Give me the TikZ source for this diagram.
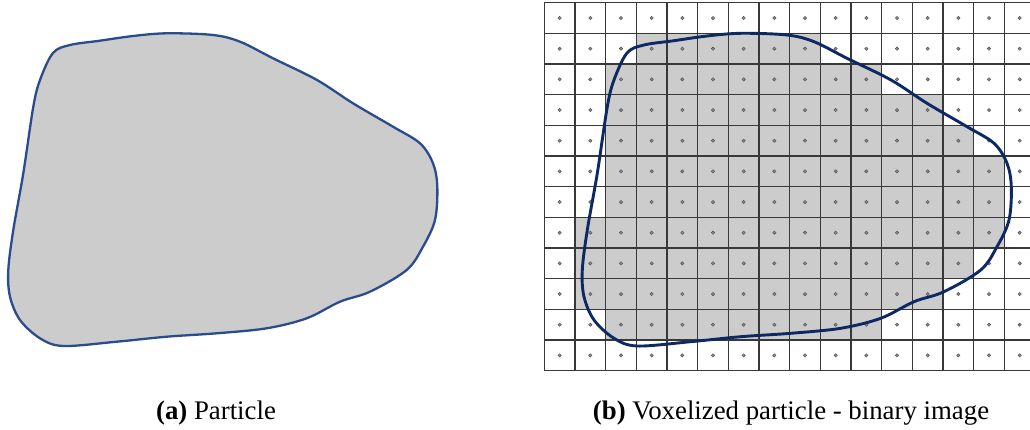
\documentclass[tikz,border=0pt]{standalone}
\usepackage{fontspec}
\setmainfont{Liberation Serif}

\begin{document}
\begin{tikzpicture}[
  x=1pt,y=-1pt,
  voxel/.style={fill=black!20},
  gridline/.style={draw=black!78,line width=1.2pt},
  voxdot/.style={draw=black!70,fill=black!45,line width=0.4pt},
  shapeA/.style={draw=particleA,fill=black!20,line width=2.3pt},
  shapeB/.style={draw=particleB,line width=2.9pt},
  caption/.style={font=\fontsize{26.8}{30}\selectfont,anchor=base}]

  \definecolor{particleA}{RGB}{42,76,140}
  \definecolor{particleB}{RGB}{14,40,100}

  \def\cs{30.67}
  \def\gx{544.3}
  \def\gy{2.7}
  \def\particle{plot[smooth cycle,tension=0.55] coordinates {
    (53,53) (70,45) (100,40.7) (133,36) (167,33.3) (213,35) (240,41.7)
    (273,58.3) (317,80) (353,103.3) (393,126.7) (420,143.3) (433,163.3)
    (437.3,186.7) (435,220) (423,246.7) (406.7,270) (370,291.7) (340,301.7)
    (306.7,318.3) (266.7,328.3) (216.7,333.3) (166.7,336.7) (116.7,341.7)
    (63.3,346) (40,338.3) (20,320) (10,296.7) (8.3,270) (13.3,230)
    (23.3,173.3) (33.3,106.7) (40,80)}}

  \useasboundingbox (0,0) rectangle (1030,430);

  % ---- (a) particle ----
  \path[shapeA] \particle;

  % ---- (b) voxel grid ----
  \begin{scope}
    \clip (0,0) rectangle (1030,430);
    % occupied voxels: row / first col / last col
    \foreach \r/\a/\b in {1/3/8,2/2/10,3/2/12,4/2/13,5/2/14,6/2/14,
                          7/1/14,8/1/13,9/1/12,10/2/10}{
      \path[voxel] ({\gx+\a*\cs},{\gy+\r*\cs}) rectangle ({\gx+(\b+1)*\cs},{\gy+(\r+1)*\cs});
    }
    \foreach \i in {0,...,16}
      \draw[gridline] ({\gx+\i*\cs},\gy) -- ({\gx+\i*\cs},{\gy+12*\cs});
    \foreach \j in {0,...,12}
      \draw[gridline] (\gx,{\gy+\j*\cs}) -- ({\gx+16*\cs},{\gy+\j*\cs});
    % voxel centres
    \foreach \r in {0,...,11}
      \foreach \c in {0,...,15}
        \path[voxdot] ({\gx+(\c+0.5)*\cs},{\gy+(\r+0.5)*\cs}) circle (1.7);
  \end{scope}

  % particle outline over the grid
  \draw[shapeB,shift={(574,0)}] \particle;

  % ---- captions ----
  \node[caption] (capA) at (216,419) {\textbf{(a)} Particle};
  \node[caption] (capB) at (791,419) {\textbf{(b)} Voxelized particle - binary image};
\end{tikzpicture}
\end{document}
